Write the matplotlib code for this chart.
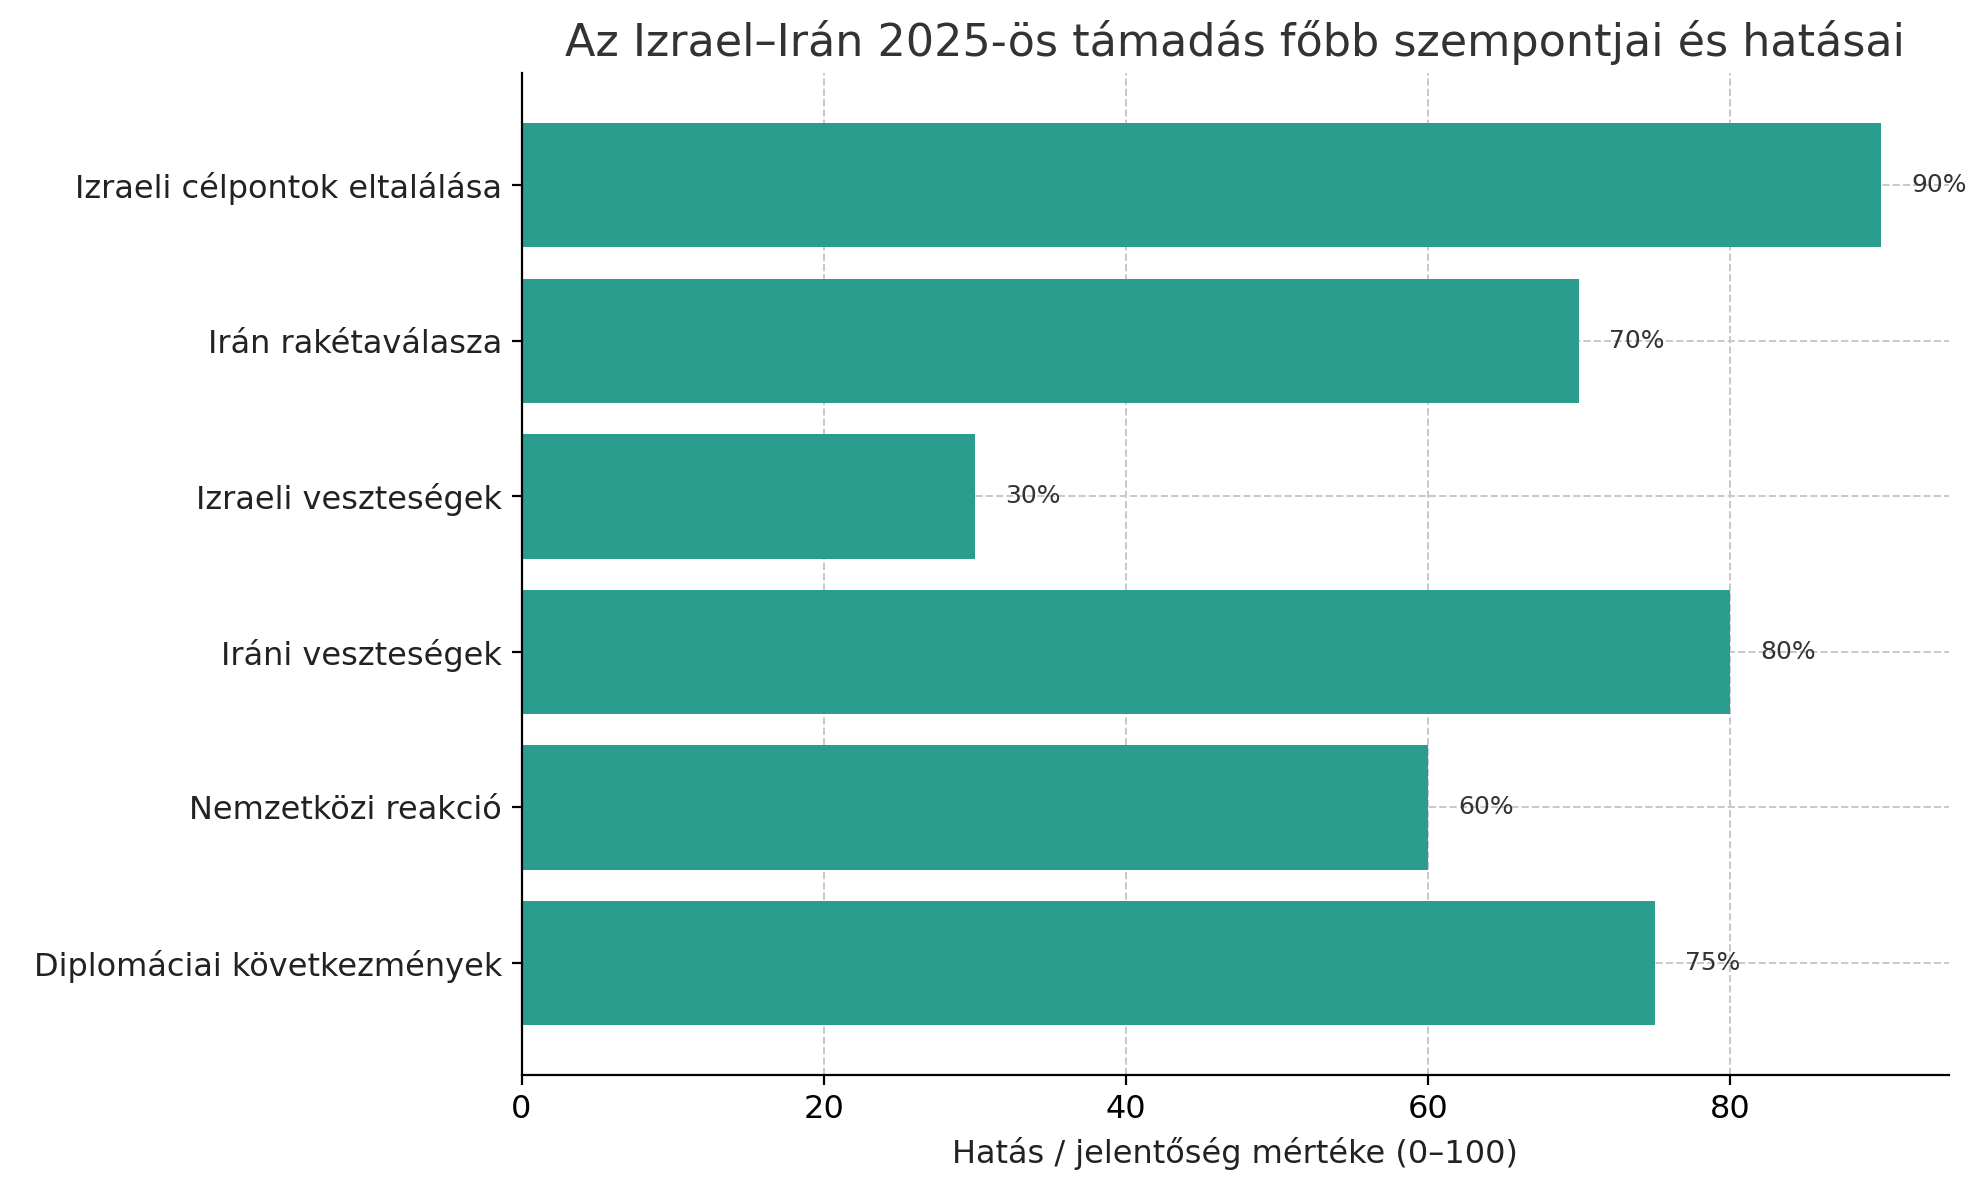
import matplotlib
matplotlib.use("Agg")
import matplotlib.pyplot as plt

categories = ["Izraeli célpontok eltalálása", "Irán rakétaválasza", "Izraeli veszteségek",
              "Iráni veszteségek", "Nemzetközi reakció", "Diplomáciai következmények"]
values = [90, 70, 30, 80, 60, 75]
xticks = [0, 20, 40, 60, 80]

fig = plt.figure(figsize=(9.915, 5.9), dpi=200)
ax = fig.add_axes([0.263, 0.089, 0.72, 0.849])
ypos = list(range(len(categories)))[::-1]
ax.barh(ypos, values, height=0.8, color="#2a9d8f", zorder=2)
for y, v in zip(ypos, values):
    ax.text(v + 2, y, f"{v}%", va="center", ha="left", fontsize=9, color="#333333", zorder=3)
ax.set_yticks(ypos)
ax.set_yticklabels(categories, fontsize=11.5, color="#222222")
ax.set_xticks(xticks)
ax.tick_params(axis="x", labelsize=11.5)
ax.set_xlim(0, 94.5)
ax.set_ylim(-0.72, 5.72)
ax.grid(True, linestyle="--", color="#c8c8c8", linewidth=0.7, zorder=0)
ax.set_axisbelow(True)
ax.spines["top"].set_visible(False)
ax.spines["right"].set_visible(False)
ax.set_xlabel("Hatás / jelentőség mértéke (0–100)", fontsize=11.5, color="#222222")
ax.set_title("Az Izrael–Irán 2025-ös támadás főbb szempontjai és hatásai", fontsize=16, color="#333333")
fig.savefig("out.png", dpi=200)
